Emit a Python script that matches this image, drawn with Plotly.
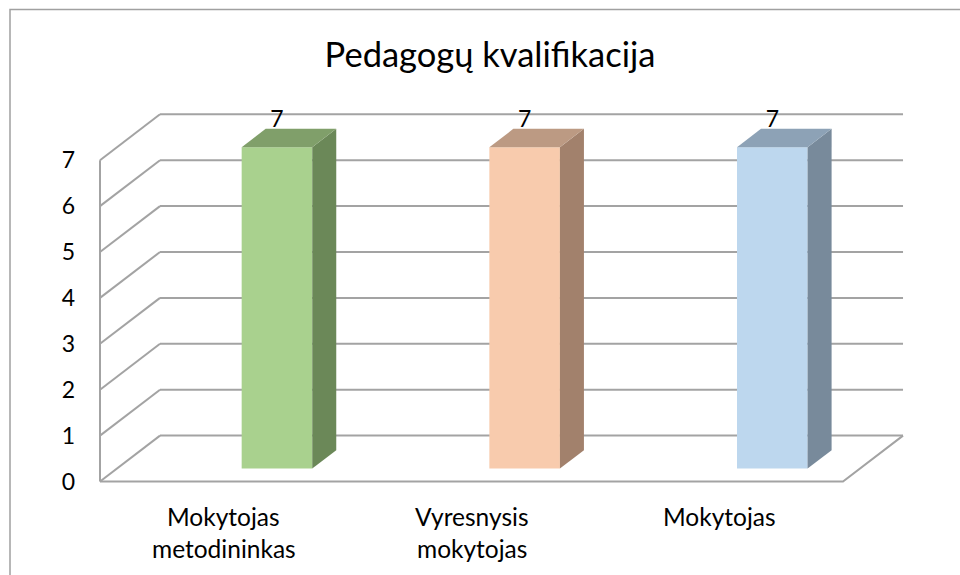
import plotly.graph_objects as go

# ---- data ----
categories = ["Mokytojas<br>metodininkas", "Vyresnysis<br>mokytojas", "Mokytojas"]
values = [7, 7, 7]
tick_vals = [0, 1, 2, 3, 4, 5, 6, 7]
tick_text = ["0", "1", "2", "3", "4", "5", "6", "7"]
title_text = "Pedagogų kvalifikacija"

front_colors = ["#A9D18E", "#F8CBAD", "#BDD7EE"]
top_colors = ["#809F6A", "#BC9A83", "#8DA2B6"]
side_colors = ["#6B8858", "#A2816C", "#788A9B"]

# ---- 3D projection helpers (in axis units) ----
DX, DY = 0.2423, 1.0          # full floor depth vector
D0 = 0.283                    # depth at which bar front faces sit
DB = 0.40                     # bar depth fraction
BAR_OFF = 0.2145              # bar centre offset from category centre
BAR_HW = 0.1425               # bar half-width
GRID = "#A3A3A3"
FONT = "Lato"

n = len(categories)
x_left, x_right = -0.5, n - 0.5
ymax_grid = tick_vals[-1]

fig = go.Figure()

def line(xs, ys):
    fig.add_trace(go.Scatter(x=xs, y=ys, mode="lines",
                             line=dict(color=GRID, width=2),
                             hoverinfo="skip", showlegend=False))

# back wall gridlines
for k in tick_vals:
    line([x_left + DX, x_right + DX], [k + DY, k + DY])
# left wall diagonals
for k in tick_vals:
    line([x_left, x_left + DX], [k, k + DY])
# left vertical axis line
line([x_left, x_left], [0, ymax_grid])
# floor front edge and right edge
line([x_left, x_right, x_right + DX], [0, 0, DY])

def face(xs, ys, color):
    fig.add_trace(go.Scatter(x=xs + [xs[0]], y=ys + [ys[0]], mode="lines",
                             fill="toself", fillcolor=color,
                             line=dict(width=0, color=color),
                             hoverinfo="skip", showlegend=False))

bdx, bdy = DX * DB, DY * DB
for i, v in enumerate(values):
    c = i + BAR_OFF
    l, r = c - BAR_HW, c + BAR_HW
    b, t = D0, v + D0
    face([l, r, r, l], [b, b, t, t], front_colors[i])
    face([r, r + bdx, r + bdx, r], [b, b + bdy, t + bdy, t], side_colors[i])
    face([l, r, r + bdx, l + bdx], [t, t, t + bdy, t + bdy], top_colors[i])

# data labels
fig.add_trace(go.Scatter(
    x=[i + BAR_OFF for i in range(n)], y=[v + 0.85 for v in values],
    mode="text", text=[str(v) for v in values],
    textfont=dict(family=FONT, size=23, color="#000000"),
    textposition="middle center", hoverinfo="skip", showlegend=False))

# category labels (one annotation per line for Excel-like line spacing)
LINE_STEP = 32 / 45.9
for i, cat in enumerate(categories):
    for j, part in enumerate(cat.split("<br>")):
        fig.add_annotation(x=i, y=-0.77 - j * LINE_STEP, text=part, showarrow=False,
                           xanchor="center", yanchor="middle", align="center",
                           font=dict(family=FONT, size=24.5, color="#000000"))

W, H = 960, 575
ML = 80
unit_x = 247.67
unit_y = 45.9
xmin = -0.5 - (100 - ML) / unit_x
xmax = xmin + (W - ML) / unit_x
ytop = 481.5 / unit_y
ybot = ytop - H / unit_y

fig.update_layout(
    width=W, height=H,
    margin=dict(l=ML, r=0, t=0, b=0),
    paper_bgcolor="white", plot_bgcolor="white",
    showlegend=False,
    title=dict(text=title_text, x=490 / W, xref="container", xanchor="center",
               y=1 - 55 / H, yref="container", yanchor="middle",
               font=dict(family=FONT, size=34.5, color="#000000")),
    xaxis=dict(range=[xmin, xmax], visible=False, fixedrange=True),
    yaxis=dict(range=[ybot, ytop], showgrid=False, zeroline=False,
               showline=False, ticks="", tickvals=tick_vals, ticktext=tick_text,
               tickfont=dict(family=FONT, size=23, color="#000000"),
               ticklabelstandoff=4, fixedrange=True),
    shapes=[dict(type="path", xref="paper", yref="paper",
                 path="M {0},{1} L {0},{2} L {3},{2}".format(
                     (10 - ML) / (W - ML), -0.1, 1 - 9.5 / H, 1.2),
                 line=dict(color="#A0A0A0", width=1.5))],
)

fig.write_html("out.html",
               config={"displayModeBar": False},
               post_script="document.body.style.margin='0';document.body.style.overflow='hidden';")
